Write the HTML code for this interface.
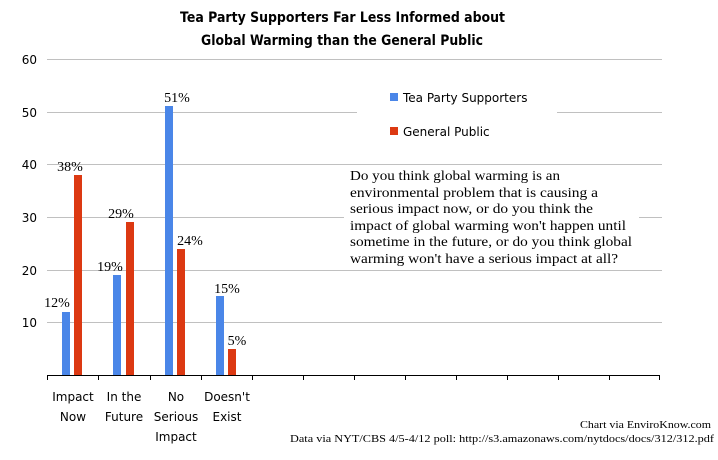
<!DOCTYPE html>
<html><head><style>
body{margin:0;background:#fff;}
svg{display:block;}
.t{font-family:"DejaVu Sans","Liberation Sans",sans-serif;}
.s{font-family:"Liberation Serif",serif;}
</style></head><body>
<svg width="718" height="460" xmlns="http://www.w3.org/2000/svg">
<rect width="718" height="460" fill="#fff"/>
<g stroke="#c0c0c0" stroke-width="1">
<line x1="47" y1="59.5" x2="662" y2="59.5"/>
<line x1="47" y1="112.5" x2="662" y2="112.5"/>
<line x1="47" y1="164.5" x2="662" y2="164.5"/>
<line x1="47" y1="217.5" x2="662" y2="217.5"/>
<line x1="47" y1="270.5" x2="662" y2="270.5"/>
<line x1="47" y1="322.5" x2="662" y2="322.5"/>
</g>
<g class="t" font-size="12" fill="#000" text-anchor="end">
<text x="37" y="64">60</text><text x="37" y="117">50</text><text x="37" y="169">40</text>
<text x="37" y="222">30</text><text x="37" y="275">20</text><text x="37" y="327">10</text>
</g>
<g class="t" font-weight="bold" font-size="14">
<text x="180" y="22" textLength="325" lengthAdjust="spacingAndGlyphs">Tea Party Supporters Far Less Informed about</text>
<text x="201" y="45" textLength="282" lengthAdjust="spacingAndGlyphs">Global Warming than the General Public</text>
</g>
<g fill="#4a86e8">
<rect x="62" y="312" width="8" height="63"/>
<rect x="113" y="275" width="8" height="100"/>
<rect x="165" y="106" width="8" height="269"/>
<rect x="216" y="296" width="8" height="79"/>
</g>
<g fill="#dc3912">
<rect x="74" y="175" width="8" height="200"/>
<rect x="126" y="222" width="8" height="153"/>
<rect x="177" y="249" width="8" height="126"/>
<rect x="228" y="349" width="8" height="26"/>
</g>
<g class="s" font-size="14" text-anchor="middle">
<text x="57" y="307">12%</text><text x="70" y="171">38%</text>
<text x="110" y="271">19%</text><text x="121" y="218">29%</text>
<text x="177" y="102">51%</text><text x="190" y="245">24%</text>
<text x="227" y="293">15%</text><text x="237" y="345">5%</text>
</g>
<line x1="47" y1="375.5" x2="660" y2="375.5" stroke="#000" stroke-width="1"/>
<g stroke="#000" stroke-width="1">
<line x1="47.5" y1="375" x2="47.5" y2="380"/><line x1="98.5" y1="375" x2="98.5" y2="380"/>
<line x1="150.5" y1="375" x2="150.5" y2="380"/><line x1="201.5" y1="375" x2="201.5" y2="380"/>
<line x1="252.5" y1="375" x2="252.5" y2="380"/><line x1="303.5" y1="375" x2="303.5" y2="380"/>
<line x1="354.5" y1="375" x2="354.5" y2="380"/><line x1="405.5" y1="375" x2="405.5" y2="380"/>
<line x1="456.5" y1="375" x2="456.5" y2="380"/><line x1="507.5" y1="375" x2="507.5" y2="380"/>
<line x1="558.5" y1="375" x2="558.5" y2="380"/><line x1="609.5" y1="375" x2="609.5" y2="380"/>
<line x1="659.5" y1="375" x2="659.5" y2="380"/>
</g>
<g class="t" font-size="12" text-anchor="middle">
<text x="73" y="401">Impact</text><text x="73" y="421">Now</text>
<text x="124" y="401">In the</text><text x="124" y="421">Future</text>
<text x="176" y="401">No</text><text x="176" y="421">Serious</text><text x="176" y="441">Impact</text>
<text x="227" y="401">Doesn't</text><text x="227" y="421">Exist</text>
</g>
<rect x="357" y="86" width="200" height="60" fill="#fff"/>
<rect x="390" y="93" width="8" height="8" fill="#4a86e8"/>
<text class="t" x="403" y="102" font-size="12">Tea Party Supporters</text>
<rect x="390" y="127" width="8" height="8" fill="#dc3912"/>
<text class="t" x="403" y="136" font-size="12">General Public</text>
<rect x="344" y="166" width="295" height="100" fill="#fff"/>
<g class="s" font-size="14" lengthAdjust="spacingAndGlyphs">
<text x="350" y="180" textLength="210" lengthAdjust="spacingAndGlyphs">Do you think global warming is an</text>
<text x="350" y="197" textLength="248" lengthAdjust="spacingAndGlyphs">environmental problem that is causing a</text>
<text x="350" y="213" textLength="243" lengthAdjust="spacingAndGlyphs">serious impact now, or do you think the</text>
<text x="350" y="230" textLength="276" lengthAdjust="spacingAndGlyphs">impact of global warming won't happen until</text>
<text x="350" y="246" textLength="282" lengthAdjust="spacingAndGlyphs">sometime in the future, or do you think global</text>
<text x="350" y="263" textLength="268" lengthAdjust="spacingAndGlyphs">warming won't have a serious impact at all?</text>
</g>
<g class="s" font-size="11">
<text x="580" y="428" textLength="131" lengthAdjust="spacingAndGlyphs">Chart via EnviroKnow.com</text>
<text x="290" y="442" textLength="424" lengthAdjust="spacingAndGlyphs">Data via NYT/CBS 4/5-4/12 poll: http://s3.amazonaws.com/nytdocs/docs/312/312.pdf</text>
</g>
</svg>
</body></html>
